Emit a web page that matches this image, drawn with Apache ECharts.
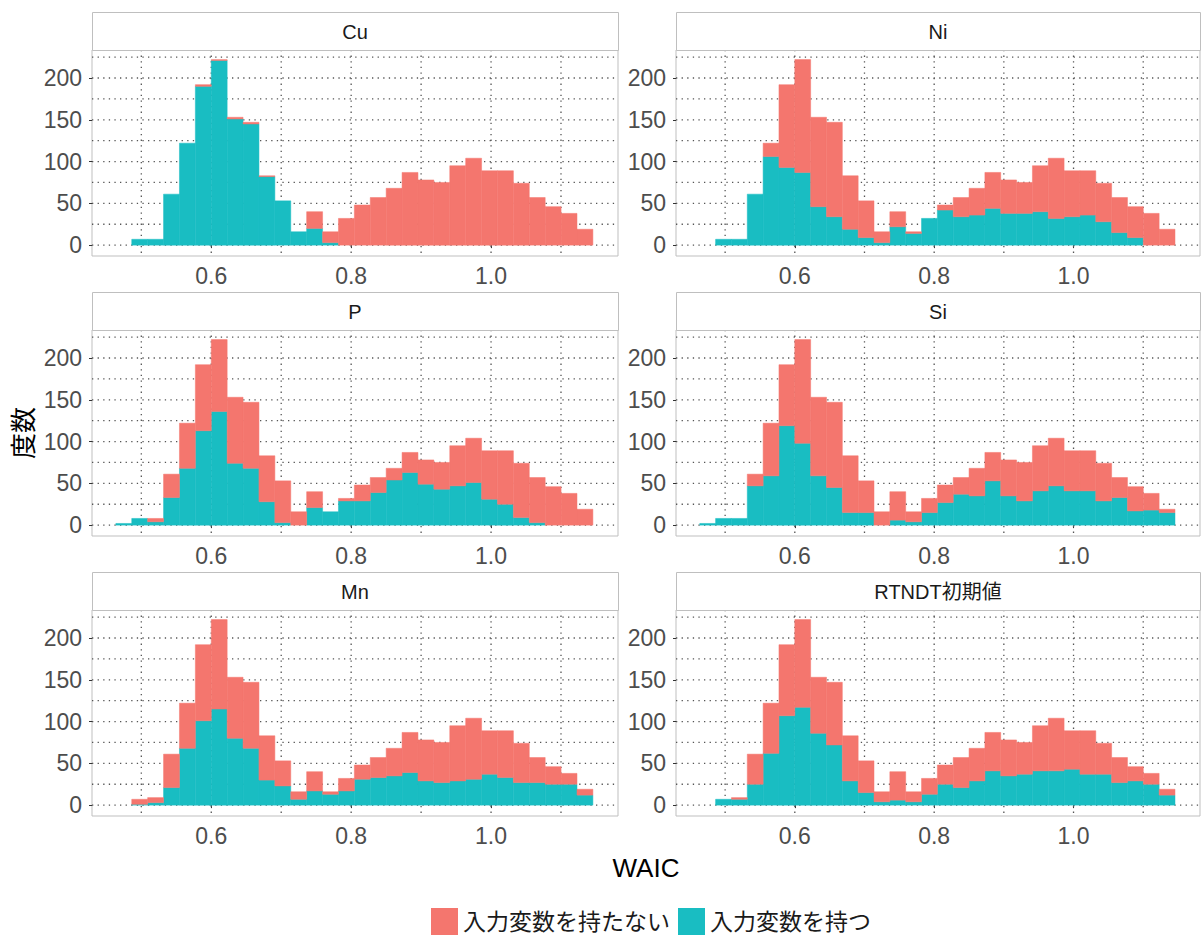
<!DOCTYPE html>
<html>
<head>
<meta charset="utf-8">
<script src="https://cdn.jsdelivr.net/npm/echarts@6/dist/echarts.min.js"></script>
<style>
  html, body { margin: 0; padding: 0; background: #ffffff; }
  #chart { width: 1203px; height: 935px; }
</style>
</head>
<body>
<div id="chart"></div>
<script>
// Facet titles, in panel order (row by row, left to right)
const panelNames = ['Cu', 'Ni', 'P', 'Si', 'Mn', 'RTNDT初期値'];
// Fill groups: stacked on top / at the bottom
const seriesNames = ['入力変数を持たない', '入力変数を持つ'];

// Histogram binning of WAIC (30 bins)
const BIN_START = 0.4636;
const BIN_WIDTH = 0.022733;

// Axis ticks and grid lines
const xTickValues = [0.6, 0.8, 1.0];
const xGridValues = [0.5, 0.6, 0.7, 0.8, 0.9, 1.0, 1.1];
const yTickValues = [0, 50, 100, 150, 200];
const yGridValues = [0, 25, 50, 75, 100, 125, 150, 175, 200, 225];

// Counts per bin: models without the input variable / with it
const withoutCu = [0, 0, 0, 0, 0, 2, 1, 2, 2, 1, 0, 0, 20, 13, 32, 48, 57, 68, 87, 78, 75, 95, 104, 89, 89, 74, 57, 46, 38, 19];
const withCu    = [0, 7, 7, 61, 122, 190, 221, 151, 145, 82, 53, 16, 20, 3, 0, 0, 0, 0, 0, 0, 0, 0, 0, 0, 0, 0, 0, 0, 0, 0];

const withoutNi = [0, 0, 0, 0, 16, 99, 135, 107, 113, 64, 44, 13, 18, 2, 0, 6, 23, 32, 43, 40, 37, 55, 72, 55, 53, 46, 42, 37, 38, 19];
const withNi    = [0, 7, 7, 61, 106, 93, 87, 46, 34, 19, 9, 3, 22, 14, 32, 42, 34, 36, 44, 38, 38, 40, 32, 34, 36, 28, 15, 9, 0, 0];

const withoutP  = [0, 0, 4, 28, 54, 79, 86, 79, 79, 55, 50, 16, 19, 0, 3, 19, 18, 14, 24, 29, 32, 48, 53, 58, 64, 65, 54, 46, 38, 19];
const withP     = [2, 8, 4, 33, 68, 113, 136, 74, 68, 28, 3, 0, 21, 16, 29, 29, 39, 54, 63, 49, 43, 47, 51, 31, 25, 9, 3, 0, 0, 0];

const withoutSi = [0, 0, 0, 14, 63, 73, 124, 94, 102, 68, 38, 16, 34, 12, 17, 21, 20, 33, 34, 43, 46, 54, 57, 48, 48, 45, 24, 29, 20, 4];
const withSi    = [2, 8, 8, 47, 59, 119, 98, 59, 45, 15, 15, 0, 6, 4, 15, 27, 37, 35, 53, 35, 29, 41, 47, 41, 41, 29, 33, 17, 18, 15];

const withoutMn = [0, 6, 6, 40, 54, 91, 107, 73, 79, 53, 30, 9, 23, 3, 15, 17, 24, 33, 48, 49, 48, 66, 73, 52, 56, 47, 30, 21, 13, 7];
const withMn    = [0, 1, 3, 21, 68, 101, 115, 80, 68, 30, 23, 7, 17, 13, 17, 31, 33, 35, 39, 29, 27, 29, 31, 37, 33, 27, 27, 25, 25, 12];

const withoutRT = [0, 0, 2, 36, 60, 85, 105, 67, 75, 54, 38, 12, 34, 12, 19, 23, 36, 39, 46, 43, 38, 54, 63, 46, 52, 37, 30, 17, 13, 7];
const withRT    = [0, 7, 7, 25, 62, 107, 117, 86, 72, 29, 15, 4, 6, 4, 13, 25, 21, 29, 41, 35, 37, 41, 41, 43, 37, 37, 27, 29, 25, 12];

const panelWithout = [withoutCu, withoutNi, withoutP, withoutSi, withoutMn, withoutRT];
const panelWith    = [withCu, withNi, withP, withSi, withMn, withRT];

// ---- layout ----
const COLORS = ['#F4766E', '#19BDC2'];
const FONT = "'Liberation Sans', 'Noto Sans CJK JP', sans-serif";
const colLeft = [92, 676];
const colWidth = [526, 524];
const rowTop = [50, 330, 610];
const PANEL_H = 206;
const STRIP_H = 38;
const X_MIN = 0.4295, X_MAX = 1.1815;
const Y_MIN = -13, Y_MAX = 233.5;
const BORDER = '#bfbfbf';

// stacked histogram rectangles: [x0, x1, yBottom, yTop]
function binRects(bottomCounts, topCounts) {
  const out = [];
  topCounts.forEach((c, i) => {
    const base = bottomCounts ? bottomCounts[i] : 0;
    if (c > 0) {
      const x0 = BIN_START + i * BIN_WIDTH;
      out.push([x0, x0 + BIN_WIDTH, base, base + c]);
    }
  });
  return out;
}

function barRenderer(color) {
  return function (params, api) {
    const p0 = api.coord([api.value(0), api.value(3)]);
    const p1 = api.coord([api.value(1), api.value(2)]);
    return {
      type: 'rect',
      shape: { x: p0[0], y: p0[1], width: p1[0] - p0[0], height: p1[1] - p0[1] },
      style: { fill: color, stroke: color, lineWidth: 0.5 }
    };
  };
}

function gridLineRenderer(params, api) {
  const cs = params.coordSys;
  const p = api.coord([api.value(0), api.value(1)]);
  const vertical = api.value(2) === 1;
  const shape = vertical
    ? { x1: p[0], y1: cs.y, x2: p[0], y2: cs.y + cs.height }
    : { x1: cs.x, y1: p[1], x2: cs.x + cs.width, y2: p[1] };
  return {
    type: 'line',
    shape: shape,
    style: { stroke: '#555555', lineWidth: 1.3, lineDash: [1.3, 4.3] }
  };
}

const gridLineData = []
  .concat(xGridValues.map(v => [v, 0, 1]))
  .concat(yGridValues.map(v => [0.6, v, 0]));

const grids = [], xAxes = [], yAxes = [], series = [], graphics = [];

panelNames.forEach((name, k) => {
  const col = k % 2, row = Math.floor(k / 2);
  const left = colLeft[col], top = rowTop[row], width = colWidth[col];

  grids.push({
    left: left, top: top, width: width, height: PANEL_H,
    show: true, borderColor: BORDER, borderWidth: 1, backgroundColor: '#ffffff'
  });
  xAxes.push({
    gridIndex: k, type: 'value', min: X_MIN, max: X_MAX,
    axisLine: { show: false },
    splitLine: { show: false },
    axisTick: { show: true, customValues: xTickValues, length: 3, lineStyle: { color: '#333333' } },
    axisLabel: {
      show: true, customValues: xTickValues, margin: 8,
      color: '#4d4d4d', fontSize: 23, fontFamily: FONT,
      formatter: v => v.toFixed(1)
    }
  });
  yAxes.push({
    gridIndex: k, type: 'value', min: Y_MIN, max: Y_MAX,
    axisLine: { show: false },
    splitLine: { show: false },
    axisTick: { show: true, customValues: yTickValues, length: 3, lineStyle: { color: '#333333' } },
    axisLabel: {
      show: true, customValues: yTickValues, margin: 10,
      color: '#4d4d4d', fontSize: 23, fontFamily: FONT
    }
  });

  series.push({
    type: 'custom', name: 'grid-' + k, xAxisIndex: k, yAxisIndex: k,
    silent: true, z: 1, renderItem: gridLineRenderer,
    encode: { x: 0, y: 1 }, data: gridLineData
  });
  series.push({
    type: 'custom', name: seriesNames[1], xAxisIndex: k, yAxisIndex: k,
    z: 2, color: COLORS[1], renderItem: barRenderer(COLORS[1]),
    encode: { x: [0, 1], y: [2, 3] }, data: binRects(null, panelWith[k])
  });
  series.push({
    type: 'custom', name: seriesNames[0], xAxisIndex: k, yAxisIndex: k,
    z: 2, color: COLORS[0], renderItem: barRenderer(COLORS[0]),
    encode: { x: [0, 1], y: [2, 3] }, data: binRects(panelWith[k], panelWithout[k])
  });

  // facet strip
  graphics.push({
    type: 'rect', left: left, top: top - STRIP_H, z: 10,
    shape: { width: width, height: STRIP_H },
    style: { fill: '#ffffff', stroke: BORDER, lineWidth: 1 }
  });
  graphics.push({
    type: 'text', x: left + width / 2, y: top - STRIP_H / 2 + 1, z: 11,
    style: {
      text: name, fill: '#1a1a1a', font: '20px ' + FONT,
      textAlign: 'center', textVerticalAlign: 'middle'
    }
  });
});

// axis titles
graphics.push({
  type: 'text', x: 646, y: 868, z: 11,
  style: { text: 'WAIC', fill: '#000000', font: '26px ' + FONT, textAlign: 'center', textVerticalAlign: 'middle' }
});
graphics.push({
  type: 'text', x: 24, y: 433, rotation: Math.PI / 2, z: 11,
  style: { text: '度数', fill: '#000000', font: '26px ' + FONT, textAlign: 'center', textVerticalAlign: 'middle' }
});

const chart = echarts.init(document.getElementById('chart'), null, { renderer: 'svg' });
chart.setOption({
  animation: false,
  backgroundColor: '#ffffff',
  grid: grids,
  xAxis: xAxes,
  yAxis: yAxes,
  series: series,
  graphic: graphics,
  legend: {
    data: seriesNames.map((n, i) => ({ name: n, icon: 'rect', itemStyle: { color: COLORS[i] } })),
    left: 426, top: 903,
    itemWidth: 27, itemHeight: 27, itemGap: 8,
    textStyle: { fontSize: 23, color: '#1a1a1a', fontFamily: FONT, lineHeight: 26, padding: [0, 0, 0, 0] },
    selectedMode: false
  }
});
</script>
</body>
</html>
